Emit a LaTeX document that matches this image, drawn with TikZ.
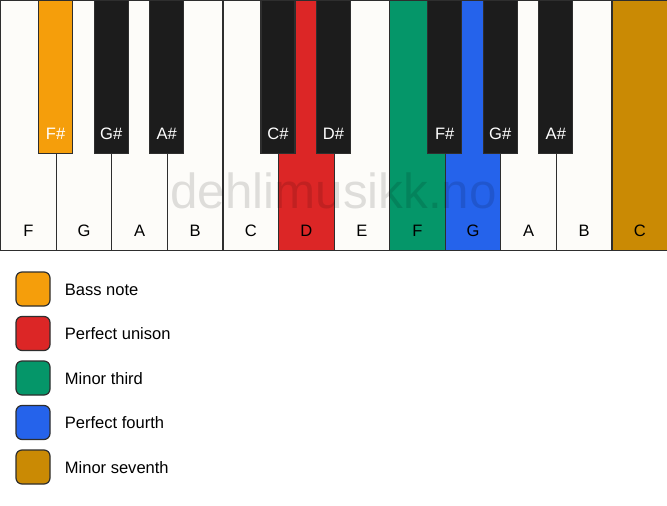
\documentclass[tikz,border=0pt]{standalone}
\usepackage{fontspec}
\setmainfont{Liberation Sans}
\usetikzlibrary{positioning}

\definecolor{keywhite}{HTML}{FDFCF9}
\definecolor{keyblack}{HTML}{1C1C1C}
\definecolor{keyline}{HTML}{2E2E2E}
\definecolor{bassnote}{HTML}{F59E0B}
\definecolor{unison}{HTML}{DC2626}
\definecolor{minthird}{HTML}{059669}
\definecolor{perfourth}{HTML}{2563EB}
\definecolor{minseventh}{HTML}{CA8A04}

\tikzset{
	whitekey/.style={draw=keyline, line width=0.9pt, fill=keywhite, anchor=north west,
		minimum width=41.69pt, minimum height=187.5pt, inner sep=0pt,
		text height=177pt, text depth=10.5pt, font=\fontsize{12.4}{14}\selectfont},
	blackkey/.style={draw=keyline, line width=0.9pt, fill=keyblack, text=white, anchor=north,
		minimum width=25.5pt, minimum height=114.75pt, inner sep=0pt,
		text height=104.25pt, text depth=10.5pt, font=\fontsize{12.4}{14}\selectfont},
	legendbox/.style={draw=keyline, line width=0.9pt, rounded corners=4.5pt,
		minimum size=25.5pt, inner sep=0pt},
	legendtext/.style={inner sep=0pt, text height=9pt, text depth=0pt,
		font=\fontsize{12.4}{14}\selectfont}
}

\begin{document}
\begin{tikzpicture}[x=0.75pt, y=-0.75pt]
	
	\fill[white] (0, 0) rectangle (667, 506);
	\useasboundingbox (0, 0) rectangle (667, 506);
	
	% white keys
	\node[whitekey] (f1) at (0, 0)   {F};
	\node[whitekey] (g1) at (55.58, 0)   {G};
	\node[whitekey] (a1) at (111.17, 0)   {A};
	\node[whitekey] (b1) at (166.75, 0)   {B};
	\node[whitekey] (c1) at (222.33, 0)   {C};
	\node[whitekey, fill=unison] (d1) at (277.92, 0)   {D};
	\node[whitekey] (e1) at (333.5, 0)   {E};
	\node[whitekey, fill=minthird] (f2) at (389.08, 0)   {F};
	\node[whitekey, fill=perfourth] (g2) at (444.67, 0)   {G};
	\node[whitekey] (a2) at (500.25, 0)   {A};
	\node[whitekey] (b2) at (555.83, 0)   {B};
	\node[whitekey, fill=minseventh] (c2) at (611.42, 0)   {C};
	
	% watermark
	\node[anchor=base, text=black, opacity=0.12, font=\fontsize{37}{40}\selectfont] (mark) at (333.5, 208)   {dehlimusikk.no};
	
	% black keys
	\node[blackkey, fill=bassnote] (fs1) at (55.58, 0)   {F\#};
	\node[blackkey] (gs1) at (111.17, 0)   {G\#};
	\node[blackkey] (as1) at (166.75, 0)   {A\#};
	\node[blackkey] (cs1) at (277.92, 0)   {C\#};
	\node[blackkey] (ds1) at (333.5, 0)   {D\#};
	\node[blackkey] (fs2) at (444.67, 0)   {F\#};
	\node[blackkey] (gs2) at (500.25, 0)   {G\#};
	\node[blackkey] (as2) at (555.83, 0)   {A\#};
	
	% legend
	\node[legendbox, fill=bassnote] (bass) at (33, 289)   {};
	\node[legendbox, fill=unison] (uni) at (33, 333.5)   {};
	\node[legendbox, fill=minthird] (third) at (33, 378)   {};
	\node[legendbox, fill=perfourth] (fourth) at (33, 422.5)   {};
	\node[legendbox, fill=minseventh] (seventh) at (33, 467)   {};
	
	\node[legendtext, right=10.5pt of bass] (bass-text)   {Bass note};
	\node[legendtext, right=10.5pt of uni] (uni-text)   {Perfect unison};
	\node[legendtext, right=10.5pt of third] (third-text)   {Minor third};
	\node[legendtext, right=10.5pt of fourth] (fourth-text)   {Perfect fourth};
	\node[legendtext, right=10.5pt of seventh] (seventh-text)   {Minor seventh};
	
\end{tikzpicture}
\end{document}
